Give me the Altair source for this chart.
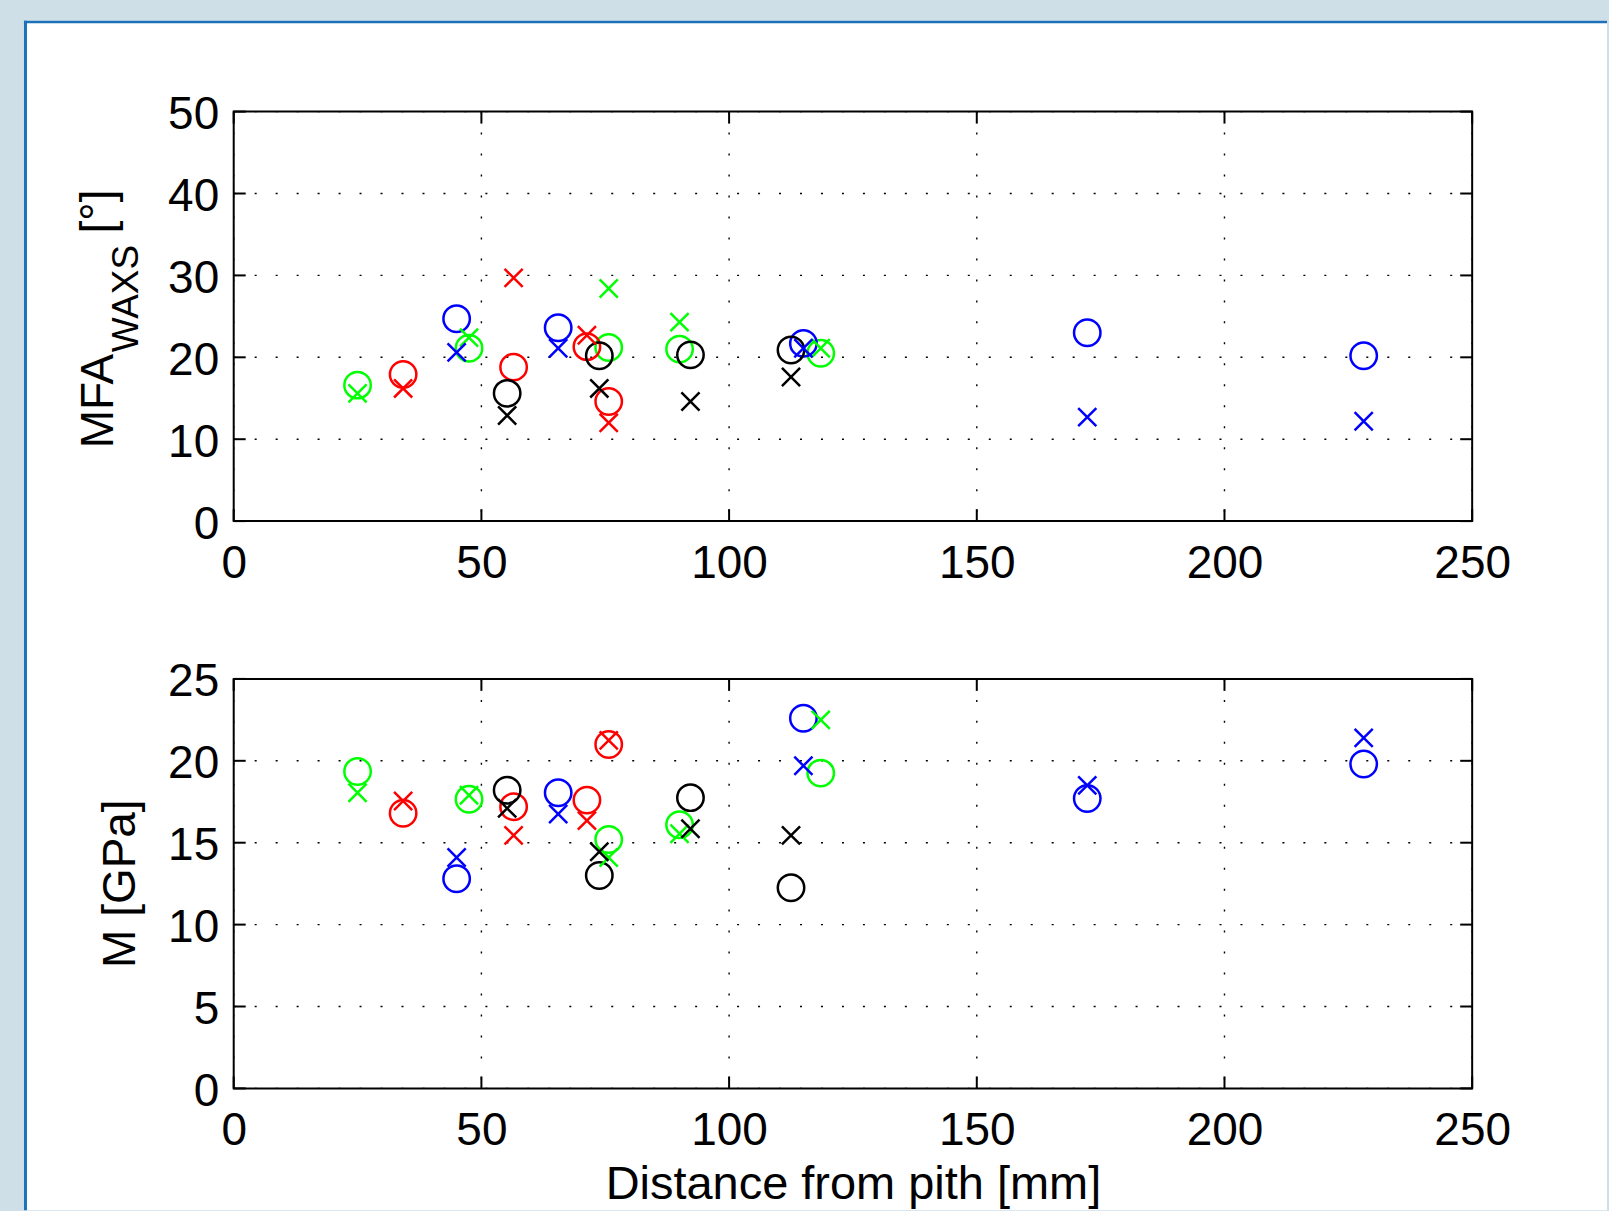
import altair as alt
import pandas as pd

FONT = "Liberation Sans"

# ---- data ----
series_names = ["blue", "red", "green", "black"]
series_colors = ["#0000ff", "#ff0000", "#00ff00", "#000000"]

green_x = [25.0, 47.5, 75.7, 90.0, 118.5]
green_mfa_circle = [16.6, 21.1, 21.2, 21.0, 20.5]
green_mfa_cross = [15.6, 22.4, 28.4, 24.3, 21.1]
green_m_circle = [19.35, 17.65, 15.2, 16.1, 19.25]
green_m_cross = [18.05, 17.9, 14.1, 15.55, 22.5]

red_x = [34.2, 56.5, 71.3, 75.7]
red_mfa_circle = [17.9, 18.8, 21.3, 14.6]
red_mfa_cross = [16.2, 29.7, 22.7, 12.0]
red_m_circle = [16.8, 17.2, 17.6, 21.0]
red_m_cross = [17.55, 15.45, 16.35, 21.25]

blue_x = [45.0, 65.5, 115.0, 172.3, 228.1]
blue_mfa_circle = [24.7, 23.6, 21.7, 23.0, 20.2]
blue_mfa_cross = [20.6, 21.1, 21.1, 12.7, 12.2]
blue_m_circle = [12.8, 18.05, 22.6, 17.7, 19.8]
blue_m_cross = [14.1, 16.75, 19.7, 18.5, 21.4]

black_x = [55.2, 73.8, 92.2, 112.5]
black_mfa_circle = [15.6, 20.2, 20.3, 20.9]
black_mfa_cross = [12.9, 16.2, 14.6, 17.6]
black_m_circle = [18.2, 13.0, 17.75, 12.25]
black_m_cross = [17.1, 14.45, 15.85, 15.45]

x_ticks = [0, 50, 100, 150, 200, 250]
mfa_ticks = [0, 10, 20, 30, 40, 50]
m_ticks = [0, 5, 10, 15, 20, 25]

series_data = {
    "green": (green_x, green_mfa_circle, green_mfa_cross, green_m_circle, green_m_cross),
    "red": (red_x, red_mfa_circle, red_mfa_cross, red_m_circle, red_m_cross),
    "blue": (blue_x, blue_mfa_circle, blue_mfa_cross, blue_m_circle, blue_m_cross),
    "black": (black_x, black_mfa_circle, black_mfa_cross, black_m_circle, black_m_cross),
}

rows = []
for name, (xs, mo, mx, eo, ex) in series_data.items():
    for i, xv in enumerate(xs):
        rows.append({"series": name, "x": xv, "marker": "o", "mfa": mo[i], "m": eo[i]})
        rows.append({"series": name, "x": xv, "marker": "x", "mfa": mx[i], "m": ex[i]})
df = pd.DataFrame(rows)

W, H = 1240, 410
TICK = 12
XPATH = "M-1,-1L1,1M-1,1L1,-1"
one = pd.DataFrame({"k": [0]})

x_scale = alt.Scale(domain=[0, 250], nice=False, zero=False)
color_enc = alt.Color("series:N", scale=alt.Scale(domain=series_names, range=series_colors), legend=None)


def panel(yfield, ydomain, yticks, xtitle, extra_front, extra_back):
    x_enc = alt.X("x:Q", scale=x_scale,
                  axis=alt.Axis(values=x_ticks, title=xtitle, labelFlush=False, labelOverlap=False,
                                zindex=2))
    y_enc = alt.Y("y:Q", scale=alt.Scale(domain=ydomain, nice=False, zero=False),
                  axis=alt.Axis(values=yticks, title=None, labelOverlap=False, zindex=2,
                                labelOffset=3))
    pdf = df.rename(columns={yfield: "y"})[["series", "x", "y", "marker"]]
    xt = pd.DataFrame({"x": x_ticks})
    yt = pd.DataFrame({"y": yticks})

    vgrid = alt.Chart(xt).mark_rule(color="black", strokeWidth=1.4, strokeDash=[2, 19]).encode(
        x=x_enc, y=alt.value(0), y2=alt.value(H))
    hgrid = alt.Chart(yt).mark_rule(color="black", strokeWidth=1.4, strokeDash=[2, 19]).encode(
        y=y_enc, x=alt.value(0), x2=alt.value(W))
    xt_bot = alt.Chart(xt).mark_rule(color="black", strokeWidth=2).encode(
        x=x_enc, y=alt.value(H), y2=alt.value(H - TICK))
    xt_top = alt.Chart(xt).mark_rule(color="black", strokeWidth=2).encode(
        x=x_enc, y=alt.value(0), y2=alt.value(TICK))
    yt_left = alt.Chart(yt).mark_rule(color="black", strokeWidth=2).encode(
        y=y_enc, x=alt.value(0), x2=alt.value(TICK))
    yt_right = alt.Chart(yt).mark_rule(color="black", strokeWidth=2).encode(
        y=y_enc, x=alt.value(W), x2=alt.value(W - TICK))
    frame = alt.Chart(one).mark_rect(fill="transparent", stroke="black", strokeWidth=2).encode(
        x=alt.value(0), x2=alt.value(W), y=alt.value(0), y2=alt.value(H))

    circles = alt.Chart(pdf[pdf.marker == "o"]).mark_point(
        shape="circle", filled=False, size=700, strokeWidth=2.5, opacity=1).encode(
        x=x_enc, y=y_enc, color=color_enc)
    crosses = alt.Chart(pdf[pdf.marker == "x"]).mark_point(
        shape=XPATH, filled=False, size=330, strokeWidth=2.5, opacity=1).encode(
        x=x_enc, y=y_enc, color=color_enc)

    layers = extra_back + [vgrid, hgrid, circles, crosses, xt_bot, xt_top, yt_left, yt_right, frame] + extra_front
    return alt.layer(*layers).properties(width=W, height=H)


# white panel with blue border (behind top panel, extends over the figure)
bg = alt.Chart(one).mark_rect(color="white").encode(
    x=alt.value(-210), x2=alt.value(1375), y=alt.value(-91), y2=alt.value(1100))
border_left = alt.Chart(one).mark_rule(color="#1b72b8", strokeWidth=3).encode(
    x=alt.value(-208.5), y=alt.value(-91), y2=alt.value(1100))
border_top = alt.Chart(one).mark_rule(color="#1b72b8", strokeWidth=2.4).encode(
    x=alt.value(-210), x2=alt.value(1375), y=alt.value(-89.8))

t_mfa = alt.Chart(one).mark_text(text="MFA", angle=270, align="left", baseline="alphabetic",
                                 fontSize=46, font=FONT, color="black").encode(
    x=alt.value(-121), y=alt.value(337))
t_waxs = alt.Chart(one).mark_text(text="WAXS", angle=270, align="left", baseline="alphabetic",
                                  fontSize=37, font=FONT, color="black").encode(
    x=alt.value(-96), y=alt.value(241))
t_deg = alt.Chart(one).mark_text(text="[°]", angle=270, align="left", baseline="alphabetic",
                                 fontSize=46, font=FONT, color="black").encode(
    x=alt.value(-121), y=alt.value(122))
t_m = alt.Chart(one).mark_text(text="M [GPa]", angle=270, align="center", baseline="alphabetic",
                               fontSize=46, font=FONT, color="black").encode(
    x=alt.value(-99), y=alt.value(205))

top = panel("mfa", [0, 50], mfa_ticks, None, [t_mfa, t_waxs, t_deg], [bg, border_left, border_top])
bottom = panel("m", [0, 25], m_ticks, "Distance from pith [mm]", [t_m], [])

chart = alt.vconcat(top, bottom, spacing=158, bounds="flush").properties(
    padding={"left": 22, "top": 18, "right": 0, "bottom": 0}
).configure(background="#cfdfe8").configure_view(stroke="transparent").configure_axis(
    labelFont=FONT, labelFontSize=46, labelColor="black", ticks=False, tickSize=0,
    domain=False, grid=False,
    titleFont=FONT, titleFontSize=47, titleFontWeight="normal", titleColor="black"
).configure_axisX(labelPadding=20, titlePadding=8).configure_axisY(labelPadding=15)

chart.save("out.html", embed_options={"renderer": "svg", "actions": False})
